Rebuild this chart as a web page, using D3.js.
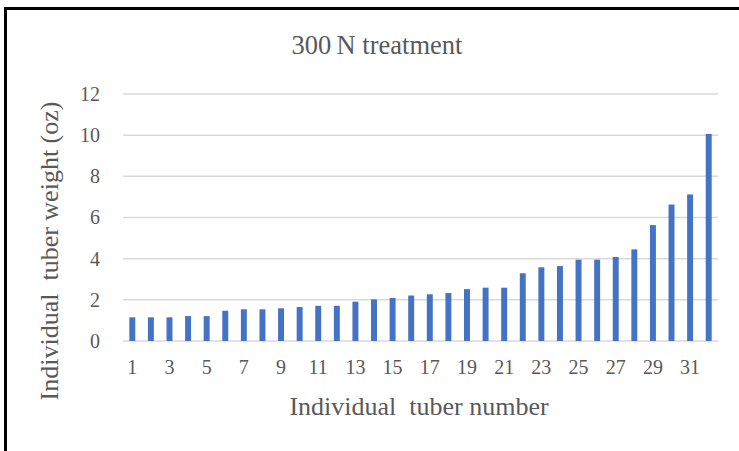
<!DOCTYPE html>
<html>
<head>
<meta charset="utf-8">
<script src="https://cdn.jsdelivr.net/npm/d3@7"></script>
<style>
    body { margin: 0; background: #fff; }
</style>
</head>
<body>
<svg id="chart" width="739" height="451"></svg>
<script>
// tuber number 1..32, sorted weights (oz)
var tubers = d3.range(1, 33);
var weights = [1.15, 1.15, 1.15, 1.21, 1.21, 1.47, 1.54, 1.54, 1.59, 1.65, 1.71, 1.71,
    1.91, 2.02, 2.09, 2.21, 2.27, 2.33, 2.52, 2.59, 2.59, 3.29, 3.58, 3.64,
    3.95, 3.95, 4.08, 4.45, 5.63, 6.63, 7.12, 10.06];
var xTicks = d3.range(1, 33, 2);
var yTicks = [0, 2, 4, 6, 8, 10, 12];

var data = tubers.map(function(t, i) { return { n: t, w: weights[i] }; });

var serif = "'Liberation Serif', 'Times New Roman', serif";
var grey = "#595959";

var svg = d3.select("#chart");

// outer frame (runs off the right and bottom edges)
svg.append("path")
    .attr("d", "M5.5,460 V8.5 H760")
    .attr("fill", "none")
    .attr("stroke", "#000")
    .attr("stroke-width", 3);

var x = d3.scaleBand()
    .domain(tubers)
    .range([123, 718])
    .paddingInner(0.68)
    .paddingOuter(0.34);

var y = d3.scaleLinear()
    .domain([0, 12])
    .range([341, 94]);

// gridlines
svg.append("g")
    .selectAll("line")
    .data(yTicks)
    .enter().append("line")
    .attr("x1", 123)
    .attr("x2", 718)
    .attr("y1", function(d) { return y(d); })
    .attr("y2", function(d) { return y(d); })
    .attr("stroke", "#d9d9d9")
    .attr("stroke-width", 1.5);

// bars
svg.append("g")
    .selectAll("rect")
    .data(data)
    .enter().append("rect")
    .attr("x", function(d) { return x(d.n); })
    .attr("width", x.bandwidth())
    .attr("y", function(d) { return y(d.w); })
    .attr("height", function(d) { return y(0) - y(d.w); })
    .attr("fill", "#4472c4");

// y axis labels
var yAxis = svg.append("g")
    .attr("transform", "translate(100,0)")
    .call(d3.axisLeft(y).tickValues(yTicks).tickSize(0).tickPadding(0));
yAxis.select(".domain").remove();
yAxis.selectAll("text")
    .style("font-family", serif)
    .style("font-size", "20px")
    .style("fill", grey);

// x axis labels
var xAxis = svg.append("g")
    .attr("transform", "translate(0,360)")
    .call(d3.axisBottom(x).tickValues(xTicks).tickSize(0).tickPadding(0));
xAxis.select(".domain").remove();
xAxis.selectAll("text")
    .style("font-family", serif)
    .style("font-size", "20px")
    .style("fill", grey);

// titles
function label(txt, size) {
    return svg.append("text")
        .attr("text-anchor", "middle")
        .style("font-family", serif)
        .style("font-size", size + "px")
        .style("fill", grey)
        .style("white-space", "pre")
        .text(txt);
}

label("300\u2009N treatment", 26.5)
    .attr("x", 377)
    .attr("y", 54);

label("Individual  tuber number", 26)
    .attr("x", 419)
    .attr("y", 415);

label("Individual  tuber weight (oz)", 26)
    .attr("transform", "translate(58,251) rotate(-90)");
</script>
</body>
</html>
